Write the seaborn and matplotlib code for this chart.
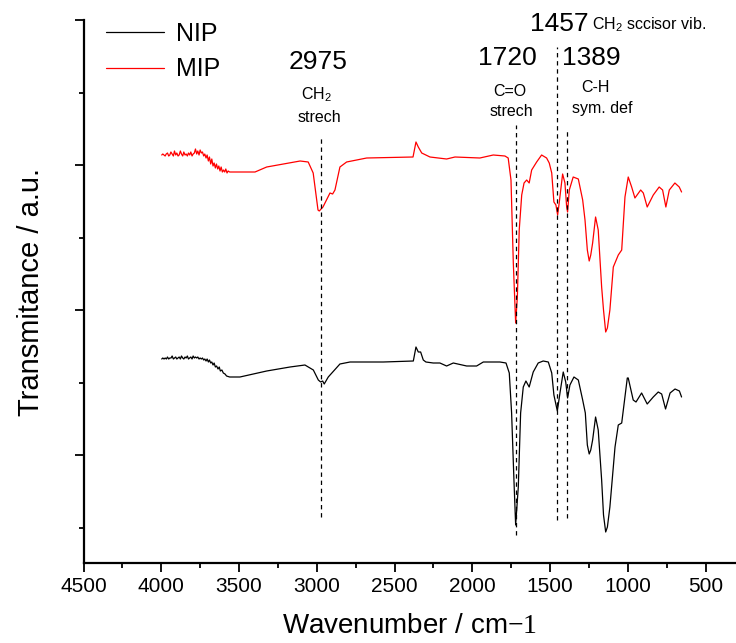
import matplotlib.pyplot as plt
import seaborn as sns
from matplotlib.ticker import MultipleLocator

# FTIR spectra (wavenumber in cm-1, transmittance in a.u.)
wn_nip = [3997, 3990, 3982, 3975, 3967, 3960, 3952, 3945, 3937, 3930, 3922, 3915,
          3907, 3900, 3892, 3885, 3877, 3870, 3862, 3855, 3847, 3840, 3832, 3825,
          3817, 3810, 3802, 3795, 3787, 3780, 3772, 3765, 3757, 3750, 3742, 3735,
          3727, 3720, 3712, 3705, 3697, 3690, 3682, 3675, 3667, 3660, 3652, 3644,
          3635, 3627, 3620, 3610, 3601, 3590, 3580, 3560, 3494, 3322,
          3172, 3076, 3022, 2990, 2975, 2962, 2952, 2926, 2851, 2786, 2572, 2379,
          2362, 2347, 2332, 2315, 2298, 2251, 2208, 2165, 2122, 2036, 1972, 1929,
          1822, 1783, 1762, 1747, 1732, 1721, 1704, 1689, 1672, 1655, 1634, 1608,
          1576, 1544, 1511, 1489, 1475, 1453, 1436, 1415, 1399, 1387, 1372, 1346,
          1318, 1290, 1273, 1260, 1248, 1238, 1226, 1207, 1190, 1168, 1156, 1142,
          1131, 1115, 1082, 1061, 1039, 1003, 997, 965, 947, 911, 875, 836, 804,
          782, 757, 728, 696, 668, 654]
t_nip = [96, 97, 96, 97, 96, 98, 96, 97, 97, 99, 96, 97,
         98, 96, 97, 98, 96, 99, 97, 96, 98, 97, 99, 96,
         97, 98, 96, 99, 97, 98, 97, 98, 96, 97, 96, 97,
         95, 96, 94, 96, 93, 95, 92, 93, 90, 92, 88, 89,
         86, 88, 84, 85, 82, 81, 79, 78, 78, 84,
         88, 90, 85, 75, 73, 74, 71, 78, 91, 93, 93, 94,
         108, 103, 103, 95, 93, 92, 92, 89, 92, 89, 89, 93,
         93, 92, 82, 42, -25, -70, -32, 42, 68, 74, 68, 83,
         92, 94, 93, 82, 60, 44, 62, 83, 73, 57, 70, 78,
         75, 55, 42, 10, 1, 5, 15, 38, 25, -25, -60, -77,
         -72, -52, 8, 30, 32, 77, 77, 55, 53, 62, 51, 58, 63,
         61, 46, 62, 66, 64, 58]

wn_mip = [3997, 3990, 3982, 3975, 3968, 3960, 3952, 3945, 3938, 3930, 3922, 3915,
          3907, 3900, 3892, 3885, 3877, 3870, 3862, 3855, 3847, 3840, 3832, 3825,
          3817, 3810, 3802, 3795, 3787, 3780, 3772, 3765, 3757, 3750, 3742, 3735,
          3727, 3720, 3712, 3705, 3697, 3690, 3682, 3675, 3667, 3660, 3652, 3645,
          3637, 3630, 3622, 3615, 3607, 3600, 3592, 3585, 3577, 3570, 3560, 3450,
          3397, 3322, 3107, 3055, 3023, 2992, 2984, 2960, 2915, 2898, 2883, 2851,
          2808, 2679, 2381, 2362, 2347, 2325, 2272, 2165, 2111, 1951, 1865, 1790,
          1769, 1751, 1736, 1721, 1710, 1698, 1682, 1667, 1650, 1634, 1618, 1586,
          1554, 1522, 1505, 1489, 1475, 1462, 1451, 1441, 1419, 1404, 1393, 1387,
          1376, 1351, 1318, 1290, 1275, 1260, 1248, 1238, 1226, 1207, 1190, 1168,
          1156, 1142, 1131, 1115, 1105, 1093, 1061, 1039, 1018, 997, 975, 954, 917,
          900, 875, 836, 798, 776, 755, 733, 697, 669, 654]
t_mip = [300, 301, 300, 299, 301, 302, 299, 300, 303, 301, 299, 304,
         300, 302, 299, 300, 304, 301, 299, 303, 300, 301, 299, 302,
         300, 303, 299, 301, 302, 306, 301, 304, 300, 305, 302, 303,
         299, 301, 297, 300, 294, 298, 291, 296, 289, 292, 287, 291,
         286, 289, 284, 288, 283, 285, 283, 286, 282, 284, 283, 283,
         283, 288, 294, 293, 282, 245, 244, 248, 262, 261, 265, 288,
         293, 297, 298, 313, 308, 302, 298, 296, 298, 297, 300, 299,
         297, 275, 192, 132, 158, 225, 260, 272, 275, 272, 285, 293,
         300, 297, 292, 282, 253, 250, 240, 252, 281, 272, 248, 243,
         265, 278, 276, 255, 235, 205, 194, 200, 212, 238, 225, 168,
         145, 123, 127, 145, 165, 188, 200, 205, 258, 278, 268, 257, 265,
         262, 248, 260, 268, 265, 248, 265, 272, 268, 263]

# marked bands: wavenumber and dashed line extent
peak_wn = [2975, 1720, 1457, 1389]
peak_lo = [-62, -80, -65, -63]
peak_hi = [318, 330, 408, 325]

sns.set_style("ticks")
plt.rcParams["font.family"] = ["Liberation Sans", "DejaVu Sans"]
plt.rcParams["mathtext.fontset"] = "custom"
plt.rcParams["mathtext.rm"] = "Liberation Serif"
plt.rcParams["mathtext.sf"] = "Liberation Sans"
for k in ["text.color", "axes.labelcolor", "xtick.color", "ytick.color", "axes.edgecolor"]:
    plt.rcParams[k] = "black"

fig = plt.figure(figsize=(7.36, 6.43), dpi=100)
ax = fig.add_axes([83.5 / 736, 1 - 563 / 643, 1 - 83.5 / 736, 543 / 643])

sns.lineplot(x=wn_nip, y=t_nip, color="black", lw=0.9, label="NIP", ax=ax, sort=False)
sns.lineplot(x=wn_mip, y=t_mip, color="red", lw=0.9, label="MIP", ax=ax, sort=False)

ax.vlines(peak_wn, peak_lo, peak_hi, colors="black", lw=0.9, linestyles=(0, (3.5, 3)))

ax.text(2992, 393, "2975", ha="center", va="center", fontsize=19)
ax.text(2999, 360, r"CH$_\mathsf{2}$", ha="center", va="center", fontsize=11.5)
ax.text(2985, 337, "strech", ha="center", va="center", fontsize=11.5)
ax.text(1777, 397, "1720", ha="center", va="center", fontsize=19)
ax.text(1758, 364, "C=O", ha="center", va="center", fontsize=11.5)
ax.text(1751, 343, "strech", ha="center", va="center", fontsize=11.5)
ax.text(1237, 397, "1389", ha="center", va="center", fontsize=19)
ax.text(1211, 367, "C-H", ha="center", va="center", fontsize=11.5)
ax.text(1166, 347, "sym. def", ha="center", va="center", fontsize=11.5)
ax.text(1629, 431, "1457", ha="left", va="center", fontsize=19)
ax.text(1230, 430, r"CH$_\mathsf{2}$ sccisor vib.", ha="left", va="center", fontsize=11.5)

ax.set_xlim(4500, 304)
ax.set_ylim(-108, 435)
ax.xaxis.set_major_locator(MultipleLocator(500))
ax.xaxis.set_minor_locator(MultipleLocator(250))
ax.yaxis.set_major_locator(MultipleLocator(145))
ax.yaxis.set_minor_locator(MultipleLocator(72.5))
ax.tick_params(which="major", length=6.5, width=1.3, direction="out", labelsize=15)
ax.tick_params(which="minor", length=3.5, width=1.3, direction="out")
ax.tick_params(axis="y", which="both", labelleft=False)
sns.despine(ax=ax)
for s in ["left", "bottom"]:
    ax.spines[s].set_linewidth(1.6)

ax.set_xlabel(r"Wavenumber / cm$\mathrm{-1}$", fontsize=20, labelpad=12)
ax.set_ylabel("Transmitance / a.u.", fontsize=21, labelpad=21)

ax.legend(loc="upper left", bbox_to_anchor=(106 / 736, 1 - 22 / 643),
          bbox_transform=fig.transFigure, frameon=False, fontsize=18,
          handlelength=2.3, handletextpad=0.5, labelspacing=0.45,
          borderpad=0, borderaxespad=0)

fig.savefig("out.png", dpi=100)
